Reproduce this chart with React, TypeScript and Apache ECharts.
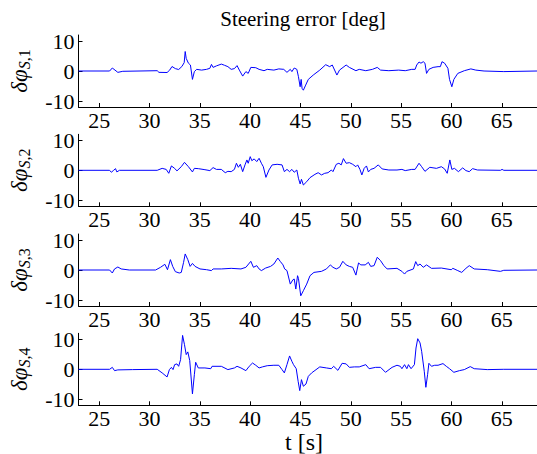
import React, { useEffect, useRef } from "react";
import * as echarts from "echarts";

const titleText = "Steering error [deg]";
const xLabelText = "t [s]";
const xTicks = [25, 30, 35, 40, 45, 50, 55, 60, 65];
const yTicks = [-10, 0, 10];
const subscripts = ["1", "2", "3", "4"];

const t1 = [22.95,26.04,26.31,26.86,27.35,30.77,30.94,31.75,32.01,32.24,32.57,32.90,33.22,33.45,33.55,33.65,33.87,34.07,34.27,34.46,34.69,35.18,35.67,36.00,36.16,36.32,36.65,37.14,37.46,37.79,38.12,38.44,38.70,38.93,39.26,39.58,39.81,40.07,40.56,40.89,41.38,41.70,42.36,42.85,43.34,43.66,43.99,44.15,44.38,44.64,44.80,44.97,45.07,45.16,45.29,45.52,45.78,46.27,46.92,47.51,47.90,48.16,48.62,48.88,49.54,49.86,50.51,50.84,51.49,52.15,52.63,52.96,53.78,54.76,55.41,56.06,56.39,56.55,56.78,56.97,57.20,57.37,57.53,57.76,58.18,58.67,58.90,59.06,59.32,59.65,59.81,60.04,60.24,60.63,61.28,61.93,62.42,63.24,65.20,68.5];
const e1 = [0,0,1.0,-0.45,-0.1,0.1,-0.45,-0.5,0.3,1.5,0.8,0.5,1.5,2.8,6.5,4.2,2.6,2.0,-2.8,-0.2,0.55,0.3,0.55,0.9,2.2,1.2,1.7,2.3,1.9,1.45,0.55,0.8,1.8,0.3,-1.7,-0.2,-0.8,1.2,1.1,0.55,0.1,0.55,0.3,0.7,0.55,-0.45,0.55,-0.2,1.0,0.55,-1.9,-5.25,-2.8,-5.8,-6.4,-4.7,-2.8,-1.35,0.3,2.1,1.45,2.0,-1.35,0.3,2.0,1.2,0.1,0.55,0.1,0.55,1.2,0.3,0.1,0.3,0.1,0.55,0.55,2.0,3.0,2.6,3.1,2.6,-0.8,0.55,1.2,1.45,1.45,3.1,2.6,0.9,-2.8,-5.25,-2.8,-0.8,0.1,0.7,0.3,0,-0.2,0];

const t2 = [22.95,26.04,26.21,26.44,26.63,26.76,27.02,30.77,31.26,31.66,31.92,32.18,32.50,32.73,33.16,33.48,33.87,34.27,34.46,34.85,35.51,36.00,36.32,36.65,37.14,37.53,37.79,38.12,38.44,38.64,38.83,39.03,39.26,39.49,39.68,39.81,40.01,40.17,40.40,40.66,40.89,41.12,41.31,41.57,41.87,42.19,42.68,43.17,43.40,43.66,43.92,44.15,44.38,44.64,44.80,44.97,45.10,45.29,45.62,45.95,46.44,46.76,47.09,47.41,47.74,48.07,48.23,48.56,48.82,49.05,49.27,49.54,49.86,50.19,50.51,50.68,50.91,51.10,51.33,51.56,51.75,51.98,52.31,52.73,53.12,53.78,54.59,55.08,55.41,56.06,56.39,56.78,57.04,57.37,57.85,58.51,59.00,59.32,59.58,59.84,60.04,60.30,60.69,61.12,61.44,61.77,62.10,62.59,64.87,65.03,65.20,68.5];
const e2 = [0,0,-0.65,0,0.55,-0.55,0,0,0.65,0.3,-1.0,1.45,0.65,-0.2,1.2,2.65,1.2,-0.55,0.65,0.55,0.2,-0.1,0.9,0.3,0.3,-0.8,-0.35,-0.45,0.3,2.35,1.0,2.0,-0.45,1.8,3.45,2.35,4.55,3.2,3.8,2.9,4.0,2.35,1.2,-2.35,0.1,1.8,2.0,1.8,-0.45,0.3,-0.45,0.3,-0.65,0.1,-2.65,-4.55,-3.0,-4.9,-3.8,-2.45,-1.35,-0.8,-1.55,-1.0,-0.8,0.1,-0.45,2.0,2.35,1.8,3.9,2.35,2.55,2.0,1.2,1.8,0.3,-1.55,0.65,1.45,-0.55,0.3,0.65,1.8,0.45,0.1,0.1,0.3,-0.1,0.3,0.3,2.35,1.2,-0.35,1.0,0.65,1.2,0.45,-1.0,3.45,0.3,0.65,-0.45,0.8,-0.1,-0.45,0.55,0.1,0,0.3,0,0];

const t3 = [22.95,26.04,26.31,26.53,26.86,27.19,28.00,30.61,31.10,31.53,31.79,32.08,32.31,32.57,32.96,33.16,33.39,33.55,33.81,34.04,34.27,34.53,35.02,35.67,36.16,36.32,37.14,38.12,39.09,39.58,40.07,40.33,40.66,40.89,41.12,41.54,42.03,42.36,42.75,43.01,43.27,43.43,43.66,43.99,44.25,44.38,44.54,44.71,44.80,45.03,45.29,45.62,45.95,46.34,47.09,47.58,47.97,48.23,48.56,48.88,49.21,49.54,49.86,50.19,50.51,50.77,51.00,51.43,51.75,51.98,52.31,52.63,52.96,53.29,53.61,54.59,55.08,55.34,55.57,56.22,56.45,56.65,56.88,57.20,57.53,58.02,59.00,59.98,60.14,60.63,61.02,61.44,61.77,62.26,63.56,64.87,65.20,68.5];
const e3 = [0,0,-1.0,0.35,1.0,0.35,0,0,0.9,1.9,0.1,3.45,1.2,-0.55,-1.0,-0.8,2.55,5.35,3.45,1.2,2.2,1.2,0.35,0.1,-0.2,0.35,0.35,0.55,0.35,0.9,2.9,0.9,1.45,0.35,-0.2,0.65,1.2,2.0,4.0,2.8,1.7,0.35,-0.2,-4.7,-3.25,-3.0,-6.35,-1.9,-2.8,-8.6,-6.9,-4.7,-1.9,-0.8,-0.45,0.35,1.7,0.9,0.35,0.9,2.9,1.7,1.2,0.9,-1.7,2.35,1.7,1.7,2.55,1.2,1.45,4.25,3.1,1.45,0.35,0.55,-0.45,-1.35,-0.45,0.35,2.8,1.45,2.0,0.9,1.7,0.55,0.65,0.1,0.55,-0.2,-0.8,0.55,1.45,0.35,0.1,-0.45,-0.1,0];

const t4 = [22.95,26.04,26.31,26.53,26.86,28.33,30.77,31.26,31.75,31.98,32.18,32.34,32.50,32.73,32.90,33.09,33.29,33.48,33.65,33.81,34.00,34.27,34.46,34.59,34.85,35.51,36.09,36.22,37.14,37.79,38.44,38.70,39.09,39.58,39.91,40.24,40.56,40.89,41.22,41.70,42.36,42.85,43.17,43.40,43.66,43.92,44.15,44.31,44.58,44.77,44.93,45.10,45.29,45.55,45.78,46.11,46.92,47.58,48.07,48.30,48.72,49.14,49.54,49.86,50.35,50.84,51.49,51.82,52.47,52.96,53.45,54.10,54.59,54.92,55.08,55.34,55.57,55.73,55.99,56.32,56.48,56.65,56.88,57.04,57.30,57.46,57.63,57.76,58.02,58.34,58.67,59.16,59.49,59.81,60.24,60.79,61.28,61.87,62.26,63.56,65.20,68.5];
const e4 = [0,0,0.65,-0.45,-0.2,-0.1,0,-1.2,-2.55,-0.1,0.65,-0.1,1.55,1.8,1.0,3.2,11.3,8.2,4.9,5.8,2.9,-8.2,-1.8,2.35,0.45,0.45,0.2,1.0,1.0,-0.1,0.45,1.0,0.45,-0.45,1.0,2.1,1.35,0.45,0.8,1.2,1.35,1.35,-0.1,-1.2,1.55,4.45,2.65,1.55,0.2,-4.0,-7.1,-3.45,-5.65,-4.9,-2.35,-1.2,0.8,0.45,0.2,1.0,-0.35,2.0,1.8,0.65,0.8,0.8,1.55,0.2,0.65,0.65,-1.0,0.65,1.35,1.0,0.2,1.55,0.2,1.55,0.2,1.55,7.1,10.2,8.8,6.0,-0.65,-6.0,-1.8,2.0,1.0,1.35,1.35,1.9,1.0,0.2,-1.0,-0.45,-0.1,0.9,0.2,-0.1,0,0];

const times = [t1, t2, t3, t4];
const errors = [e1, e2, e3, e4];

const FONT = "Times New Roman";
const gridTops = [35, 134.3, 234, 333.3];
const gridHeight = 72;

export default function App() {
  const ref = useRef<HTMLDivElement>(null);
  useEffect(() => {
    if (!ref.current) return;
    const chart = echarts.init(ref.current, null, { renderer: "svg" });
    const grids = gridTops.map((top) => ({ left: 72, right: 0, top, height: gridHeight }));
    const xAxes = gridTops.map((_, i) => ({
      type: "value",
      gridIndex: i,
      min: 22.95,
      max: 68.5,
      splitLine: { show: false },
      axisLine: { show: true, onZero: false, lineStyle: { color: "#000", width: 1 } },
      axisTick: { show: true, inside: true, length: 4, customValues: xTicks, lineStyle: { color: "#000" } },
      axisLabel: { show: true, customValues: xTicks, margin: 2, color: "#000", fontSize: 22, fontFamily: FONT },
    }));
    const yAxes = gridTops.map((_, i) => ({
      type: "value",
      gridIndex: i,
      min: -12,
      max: 12,
      splitLine: { show: false },
      axisLine: { show: true, lineStyle: { color: "#000", width: 1 } },
      axisTick: { show: true, inside: true, length: 4, customValues: yTicks, lineStyle: { color: "#000" } },
      axisLabel: { show: true, customValues: yTicks, margin: 4, color: "#000", fontSize: 22, fontFamily: FONT },
      name: `{m|δφ}{s|S}{n|,${subscripts[i]}}`,
      nameLocation: "middle",
      nameRotate: 90,
      nameGap: 46,
      nameTextStyle: {
        color: "#000",
        fontFamily: FONT,
        rich: {
          m: { fontSize: 23, fontStyle: "italic", fontFamily: FONT, color: "#000" },
          s: { fontSize: 16, fontStyle: "italic", fontFamily: FONT, color: "#000", padding: [10, 0, 0, 0] },
          n: { fontSize: 16, fontFamily: FONT, color: "#000", padding: [10, 0, 0, 0] },
        },
      },
    }));
    const series = times.map((t, i) => ({
      type: "line",
      xAxisIndex: i,
      yAxisIndex: i,
      showSymbol: false,
      symbol: "none",
      lineStyle: { color: "#0000ff", width: 1 },
      data: t.map((x, j) => [x, errors[i][j]]),
    }));
    chart.setOption({
      animation: false,
      backgroundColor: "#fff",
      grid: grids,
      xAxis: xAxes,
      yAxis: yAxes,
      series,
      graphic: [
        {
          type: "text",
          x: 303,
          y: 19,
          style: { text: titleText, fontSize: 21, fontFamily: FONT, fill: "#000", textAlign: "center", textVerticalAlign: "middle" },
        },
        {
          type: "text",
          x: 304,
          y: 442,
          style: { text: xLabelText, fontSize: 24, fontFamily: FONT, fill: "#000", textAlign: "center", textVerticalAlign: "middle" },
        },
      ],
    });
    return () => chart.dispose();
  }, []);
  return <div ref={ref} style={{ width: 537, height: 454, position: "absolute", left: 0, top: 0 }} />;
}
